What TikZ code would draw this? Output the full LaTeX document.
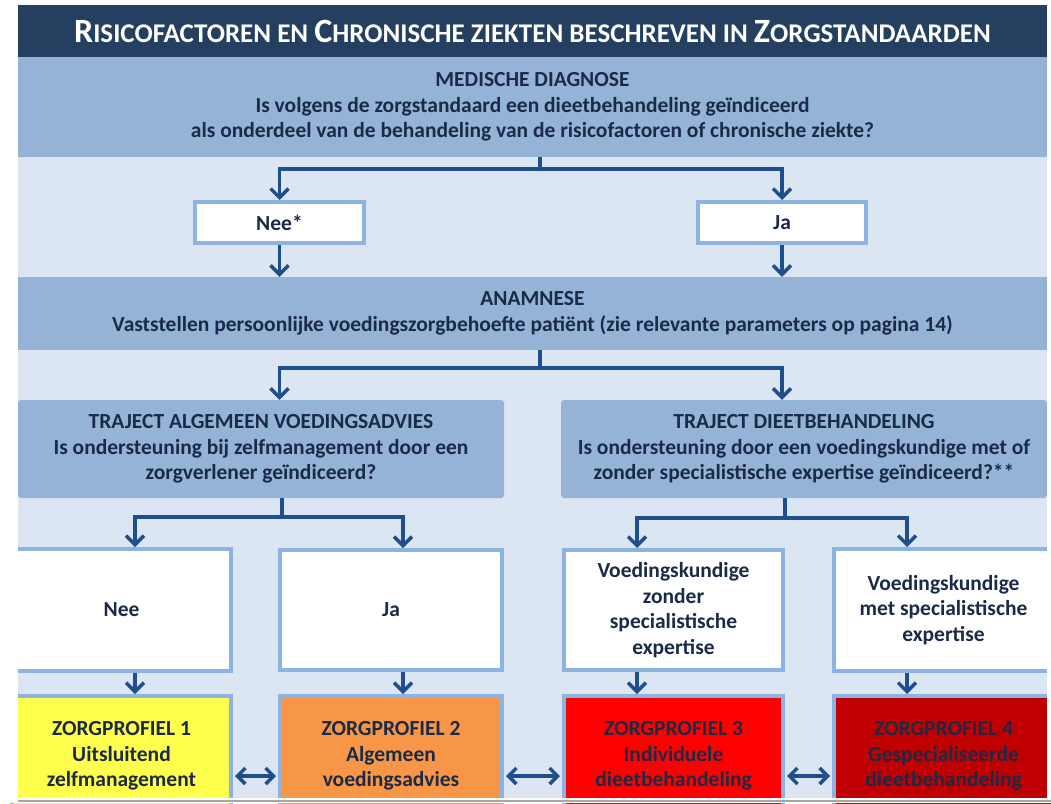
\documentclass[tikz,border=0pt]{standalone}
\usepackage{fontspec}
\setmainfont{Carlito}
\usetikzlibrary{arrows.meta}
\definecolor{navy}{HTML}{243F60}
\definecolor{band}{HTML}{95B3D7}
\definecolor{pale}{HTML}{DCE6F2}
\definecolor{rim}{HTML}{8DB3E2}
\definecolor{flowblue}{HTML}{1F4E8C}
\definecolor{ink}{HTML}{1B2A47}
\definecolor{zpyellow}{HTML}{FFFF4D}
\definecolor{zporange}{HTML}{F79646}
\definecolor{zpred}{HTML}{FF0000}
\definecolor{zpdark}{HTML}{C00000}
\newcommand{\capword}[2]{{\fontsize{34}{34}\selectfont #1}{\fontsize{27}{27}\selectfont #2}}
\tikzset{
  txt/.style={text=ink, font=\bfseries\fontsize{21.5}{25.5}\selectfont, align=center, inner sep=0pt},
  bandbox/.style={txt, fill=band},
  whitebox/.style={txt, fill=white, draw=rim, line width=4pt},
  zpbox/.style={txt, draw=rim, line width=4pt},
  flow/.style={draw=flowblue, line width=3.5pt},
  arr/.style={flow, -{Straight Barb[length=9pt,width=18pt]}},
  dblarr/.style={flow, {Straight Barb[length=8pt,width=16pt]}-{Straight Barb[length=8pt,width=16pt]}},
}
\begin{document}
\begin{tikzpicture}[x=1pt,y=-1pt]
\useasboundingbox (0,0) rectangle (1051,803);
\fill[white] (0,0) rectangle (1051,803);
\fill[pale] (18,157) rectangle (1047,800);
% header and the two wide bands
\node[fill=navy, minimum width=1029, minimum height=52, inner sep=0pt, text=white, font=\bfseries\fontsize{27}{27}\selectfont] (title) at (532.5,31)
  {\capword{R}{ISICOFACTOREN} \capword{}{EN} \capword{C}{HRONISCHE} \capword{}{ZIEKTEN BESCHREVEN IN} \capword{Z}{ORGSTANDAARDEN}};
\node[bandbox, minimum width=1029, minimum height=100] (diag) at (532.5,107)
  {MEDISCHE DIAGNOSE\\Is volgens de zorgstandaard een dieetbehandeling geïndiceerd\\als onderdeel van de behandeling van de risicofactoren of chronische ziekte?};
\node[whitebox, minimum width=169, minimum height=41] (neestar) at (279.5,222.5) {Nee*};
\node[whitebox, minimum width=168, minimum height=41] (jastar) at (782,222.5) {Ja};
\node[bandbox, minimum width=1029, minimum height=73] (anam) at (532.5,313.5)
  {ANAMNESE\\Vaststellen persoonlijke voedingszorgbehoefte patiënt (zie relevante parameters op pagina 14)};
% trajecten
\node[bandbox, rounded corners=3pt, minimum width=486, minimum height=98] (talg) at (261,449)
  {TRAJECT ALGEMEEN VOEDINGSADVIES\\Is ondersteuning bij zelfmanagement door een\\zorgverlener geïndiceerd?};
\node[bandbox, rounded corners=3pt, minimum width=486, minimum height=98] (tdiet) at (804,449)
  {TRAJECT DIEETBEHANDELING\\Is ondersteuning door een voedingskundige met of\\zonder specialistische expertise geïndiceerd?**};
\node[whitebox, minimum width=219, minimum height=122] (nee) at (121.5,610) {Nee};
\node[whitebox, minimum width=222, minimum height=120] (ja) at (391,610) {Ja};
\node[whitebox, minimum width=219, minimum height=120] (vzon) at (673.5,610)
  {Voedingskundige\\zonder\\specialistische\\expertise};
\node[whitebox, minimum width=219, minimum height=122] (vmet) at (943.5,610)
  {Voedingskundige\\met specialistische\\expertise};
% zorgprofielen
\node[zpbox, fill=zpyellow, minimum width=219, minimum height=120] (zp1) at (121.5,756)
  {ZORGPROFIEL 1\\Uitsluitend\\zelfmanagement};
\node[zpbox, fill=zporange, minimum width=222, minimum height=120] (zp2) at (391,756)
  {ZORGPROFIEL 2\\Algemeen\\voedingsadvies};
\node[zpbox, fill=zpred, minimum width=219, minimum height=120] (zp3) at (673.5,756)
  {ZORGPROFIEL 3\\Individuele\\dieetbehandeling};
\node[zpbox, fill=zpdark, minimum width=219, minimum height=120] (zp4) at (943.5,756)
  {ZORGPROFIEL 4\\Gespecialiseerde\\dieetbehandeling};
% connectors
\coordinate (f1) at (540,169);
\coordinate (f2) at (540,368);
\coordinate (f3) at (282,517);
\coordinate (f4) at (785,518);
\coordinate (colA) at (135,0);
\coordinate (colB) at (403,0);
\coordinate (colC) at (637,0);
\coordinate (colD) at (907,0);
\coordinate (dy) at (0,776);
\draw[flow] (diag.south -| f1) -- (f1);
\draw[arr] (f1) -| (neestar.north);
\draw[arr] (f1) -| (jastar.north);
\draw[arr] (neestar.south) -- (neestar.south |- anam.north);
\draw[arr] (jastar.south) -- (jastar.south |- anam.north);
\draw[flow] (anam.south -| f2) -- (f2);
\draw[arr] (f2) -| (talg.north -| neestar.south);
\draw[arr] (f2) -| (tdiet.north -| jastar.south);
\draw[flow] (talg.south -| f3) -- (f3);
\draw[arr] (f3) -| (nee.north -| colA);
\draw[arr] (f3) -| (ja.north -| colB);
\draw[flow] (tdiet.south -| f4) -- (f4);
\draw[arr] (f4) -| (vzon.north -| colC);
\draw[arr] (f4) -| (vmet.north -| colD);
\draw[arr] (nee.south -| colA) -- (zp1.north -| colA);
\draw[arr] (ja.south -| colB) -- (zp2.north -| colB);
\draw[arr] (vzon.south -| colC) -- (zp3.north -| colC);
\draw[arr] (vmet.south -| colD) -- (zp4.north -| colD);
\draw[dblarr, shorten <=2pt, shorten >=2pt] (zp1.east |- dy) -- (zp2.west |- dy);
\draw[dblarr, shorten <=2pt, shorten >=2pt] (zp2.east |- dy) -- (zp3.west |- dy);
\draw[dblarr, shorten <=2pt, shorten >=2pt] (zp3.east |- dy) -- (zp4.west |- dy);
% page edges
\fill[white] (0,0) rectangle (18,803);
\fill[white] (1047,0) rectangle (1051,803);
\fill[white] (0,798) rectangle (1051,803);
\draw[gray!70, line width=1.5pt] (18,801) -- (1051,801);
\end{tikzpicture}
\end{document}
